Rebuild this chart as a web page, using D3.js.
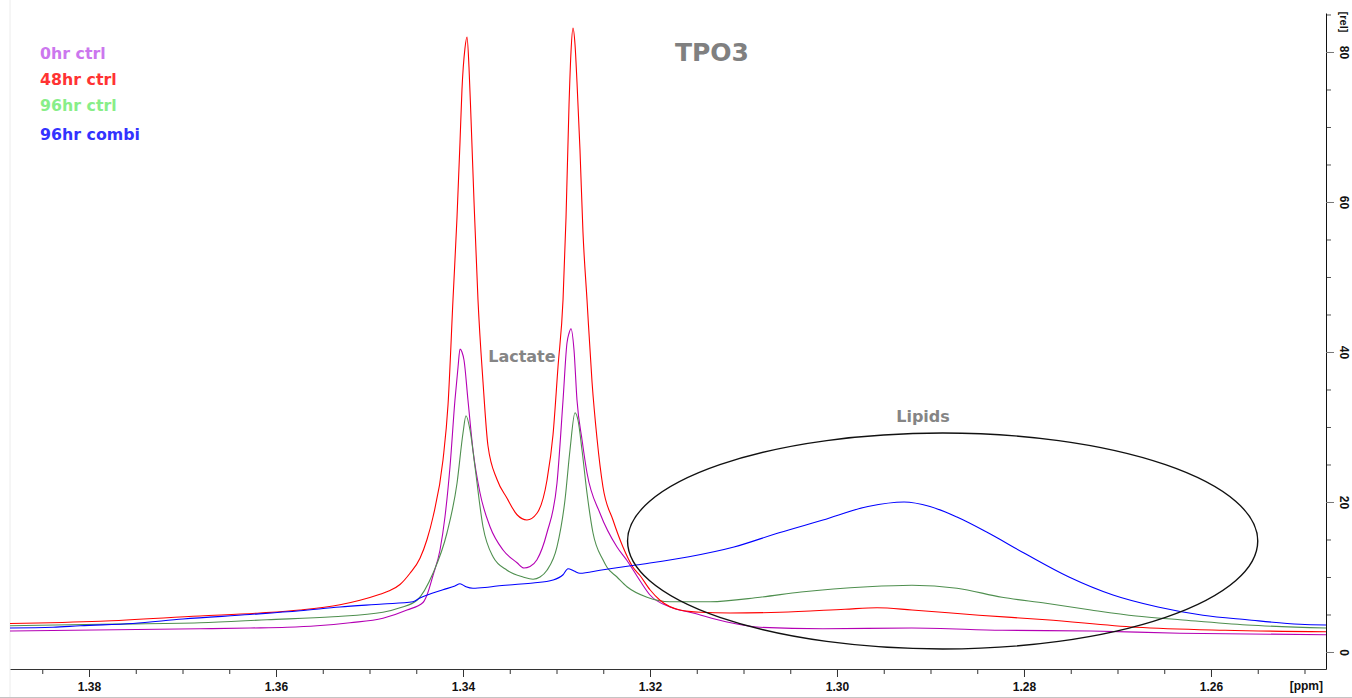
<!DOCTYPE html>
<html>
<head>
<meta charset="utf-8">
<script src="https://cdn.jsdelivr.net/npm/d3@7"></script>
<style>
  body { margin: 0; background: #fff; }
  svg { display: block; }
</style>
</head>
<body>
<script>
const width = 1352, height = 698

// spectra: [ppm, intensity in rel]
const ctrl0 = [[1.38845, 2.8],[1.36813, 3.1],[1.36278, 3.2],[1.35882, 3.3],[1.35561, 3.5],[1.35209, 3.9],[1.34856, 4.5],[1.34599, 5.6],[1.34428, 6.6],[1.34385, 7.6],[1.34321, 10.2],[1.34246, 13.6],[1.34193, 18],[1.34139, 24.7],[1.34086, 33.6],[1.34053, 38],[1.34032, 40.4],[1.34011, 40],[1.33989, 38.9],[1.33947, 33.6],[1.33893, 26.9],[1.33818, 21.2],[1.33711, 16.7],[1.33572, 13.6],[1.33422, 11.9],[1.33348, 11.2],[1.33283, 11.4],[1.33209, 12.3],[1.33102, 15.9],[1.32995, 22.5],[1.32930, 33.6],[1.32888, 41.2],[1.32866, 42.5],[1.32845, 43.1],[1.32813, 40.3],[1.32781, 33.6],[1.32727, 28.3],[1.32674, 23.9],[1.32535, 18.5],[1.32353, 14],[1.32246, 12.2],[1.32107, 9.5],[1.32000, 7.6],[1.31786, 6],[1.31540, 5.2],[1.31177, 4.0],[1.30824, 3.3],[1.30150, 3.1],[1.29198, 3.2],[1.28235, 2.9],[1.27284, 2.8],[1.26332, 2.5],[1.24770, 2.3]]

const ctrl48 = [[1.38845, 3.8],[1.37882, 4.1],[1.36813, 4.8],[1.36171, 5.2],[1.35743, 5.6],[1.35316, 6.3],[1.35102, 6.9],[1.34888, 7.7],[1.34781, 8.2],[1.34674, 9.0],[1.34567, 10.5],[1.34460, 12.5],[1.34385, 15],[1.34321, 18],[1.34214, 25.6],[1.34160, 33],[1.34107, 47],[1.34064, 58],[1.34032, 68],[1.34011, 75],[1.33979, 80.5],[1.33957, 82],[1.33936, 78],[1.33914, 71],[1.33882, 60],[1.33840, 47],[1.33786, 36],[1.33733, 27.5],[1.33636, 23],[1.33529, 20.5],[1.33422, 18.3],[1.33316, 17.6],[1.33209, 18.5],[1.33102, 22.9],[1.33037, 29],[1.32984, 38],[1.32930, 47],[1.32898, 58],[1.32866, 73],[1.32845, 80],[1.32824, 83.2],[1.32802, 81],[1.32781, 76],[1.32749, 67],[1.32717, 56],[1.32674, 47],[1.32620, 36],[1.32567, 28.5],[1.32503, 22],[1.32396, 17.6],[1.32289, 14],[1.32182, 11.3],[1.32107, 10.2],[1.32000, 8.3],[1.31893, 6.9],[1.31679, 5.6],[1.31465, 5.3],[1.31144, 5.2],[1.30610, 5.3],[1.29915, 5.7],[1.29572, 5.9],[1.29198, 5.6],[1.28481, 4.9],[1.27765, 4.3],[1.26802, 3.3],[1.25850, 2.9],[1.24770, 2.7]]

const ctrl96 = [[1.38845, 3.5],[1.37882, 3.7],[1.36813, 3.9],[1.36096, 4.3],[1.35390, 4.7],[1.34856, 5.3],[1.34674, 5.9],[1.34492, 6.9],[1.34321, 10.5],[1.34171, 15.9],[1.34064, 22.5],[1.34000, 29.2],[1.33968, 31.5],[1.33925, 29.6],[1.33872, 24.7],[1.33786, 16.7],[1.33679, 12.7],[1.33529, 10.9],[1.33358, 10],[1.33251, 9.7],[1.33176, 10],[1.33102, 10.9],[1.32995, 14],[1.32909, 20.3],[1.32856, 26.9],[1.32802, 31.9],[1.32770, 30.9],[1.32727, 26.9],[1.32674, 21.2],[1.32610, 15.9],[1.32503, 12.3],[1.32460, 11.3],[1.32353, 10],[1.32246, 8.7],[1.32032, 7.3],[1.31786, 6.7],[1.31358, 6.7],[1.30824, 7.3],[1.30385, 8],[1.29669, 8.7],[1.29198, 8.9],[1.28717, 8.5],[1.28235, 7.3],[1.27765, 6.5],[1.27284, 5.6],[1.26802, 4.8],[1.26332, 4.3],[1.25615, 3.6],[1.24770, 3.2]]

const combi96 = [[1.38845, 3.2],[1.38385, 3.3],[1.38096, 3.5],[1.37529, 3.8],[1.36995, 4.4],[1.36278, 5.0],[1.35743, 5.5],[1.35316, 6.0],[1.34856, 6.4],[1.34535, 6.7],[1.34460, 7.2],[1.34214, 8.3],[1.34086, 8.8],[1.34032, 9.1],[1.33968, 8.7],[1.33893, 8.5],[1.33765, 8.6],[1.33636, 8.8],[1.33444, 9.0],[1.33251, 9.2],[1.33037, 9.6],[1.32930, 10.3],[1.32877, 11.1],[1.32813, 10.8],[1.32749, 10.5],[1.32535, 10.9],[1.32150, 11.6],[1.31583, 12.7],[1.31102, 14],[1.30620, 15.9],[1.30150, 17.6],[1.29669, 19.4],[1.29283, 20],[1.29005, 19.4],[1.28717, 18],[1.28385, 15.9],[1.28000, 13.2],[1.27519, 10],[1.27048, 7.6],[1.26567, 6],[1.26086, 4.9],[1.25615, 4.3],[1.25048, 3.7],[1.24770, 3.6]]

const legendLabels = ['0hr ctrl', '48hr ctrl', '96hr ctrl', '96hr combi']
const xMajorTicks = [1.38, 1.36, 1.34, 1.32, 1.30, 1.28, 1.26]
const yMajorTicks = [0, 20, 40, 60, 80]

const series = [
  {data: ctrl0, color: '#b400b4'},
  {data: ctrl96, color: '#4f8f4f'},
  {data: ctrl48, color: '#ff0000'},
  {data: combi96, color: '#0000ff'}
]
const legendColors = ['#cc77ee', '#ff3333', '#88ee88', '#3333ff']

const svg = d3.select('body').append('svg')
    .attr('width', width)
    .attr('height', height)
    .style('font-family', '"Liberation Sans", Arial, sans-serif')

// scales (ppm runs right to left)
const xScale = d3.scaleLinear()
    .domain([1.38845, 1.2477])
    .range([10, 1326])

const yScale = d3.scaleLinear()
    .domain([-2.267, 85.2])
    .range([669, 13])

// frame lines
svg.append('line')
    .attr('x1', 10).attr('x2', 10).attr('y1', 0).attr('y2', 697)
    .attr('stroke', '#ececec')
svg.append('line')
    .attr('x1', 0).attr('x2', width).attr('y1', 697.5).attr('y2', 697.5)
    .attr('stroke', '#c4c4c4')

// x axis: minor then major
const minorX = d3.range(1.385, 1.2475, -0.005)
svg.append('g')
    .attr('transform', 'translate(0,669)')
    .call(d3.axisBottom(xScale).tickValues(minorX).tickSize(5).tickFormat(''))
    .call(g => g.select('.domain').remove())
    .selectAll('line').attr('stroke', '#333')

const xAxis = svg.append('g')
    .attr('transform', 'translate(0,669)')
    .call(d3.axisBottom(xScale).tickValues(xMajorTicks).tickSize(8).tickSizeOuter(0).tickFormat(d3.format('.2f')))
xAxis.select('.domain').attr('stroke', '#333')
xAxis.selectAll('line').attr('stroke', '#333')
xAxis.selectAll('text')
    .attr('y', 13)
    .attr('dy', '0.71em')
    .style('font-size', '12px')
    .style('font-weight', 'bold')
    .style('font-family', '"Liberation Sans", Arial, sans-serif')
    .attr('fill', '#111')

svg.append('text')
    .attr('x', 1323)
    .attr('y', 690)
    .attr('text-anchor', 'end')
    .style('font-size', '12px')
    .style('font-weight', 'bold')
    .attr('fill', '#111')
    .text('[ppm]')

// y axis on the right
const minorY = d3.range(0, 86, 5)
svg.append('g')
    .attr('transform', 'translate(1326,0)')
    .call(d3.axisRight(yScale).tickValues(minorY).tickSize(5).tickFormat(''))
    .call(g => g.select('.domain').remove())
    .selectAll('line').attr('stroke', '#555')

const yAxis = svg.append('g')
    .attr('transform', 'translate(1326,0)')
    .call(d3.axisRight(yScale).tickValues(yMajorTicks).tickSize(8).tickSizeOuter(0))
yAxis.select('.domain').attr('stroke', '#111')
yAxis.selectAll('line').attr('stroke', '#777')
yAxis.selectAll('text')
    .attr('x', 0).attr('y', 0).attr('dy', 0)
    .attr('text-anchor', 'middle')
    .attr('transform', 'translate(14,0) rotate(90)')
    .style('font-size', '12px')
    .style('font-weight', 'bold')
    .style('font-family', '"Liberation Sans", Arial, sans-serif')
    .attr('fill', '#111')

svg.append('text')
    .attr('transform', 'translate(1340,22) rotate(90)')
    .attr('text-anchor', 'middle')
    .style('font-size', '11px')
    .style('font-weight', 'bold')
    .attr('fill', '#111')
    .text('[rel]')

// spectra
const line = d3.line()
    .x(d => xScale(d[0]))
    .y(d => yScale(d[1]))
    .curve(d3.curveMonotoneX)

svg.selectAll('.spectrum')
    .data(series)
    .enter()
    .append('path')
        .attr('class', 'spectrum')
        .attr('d', d => line(d.data))
        .attr('fill', 'none')
        .attr('stroke', d => d.color)
        .attr('stroke-width', 1.1)

// lipid region ellipse
const cx = 1.2887, cy = 14.8, rx = 0.0337, ry = 14.4
svg.append('ellipse')
    .attr('cx', xScale(cx))
    .attr('cy', yScale(cy))
    .attr('rx', xScale(cx - rx) - xScale(cx))
    .attr('ry', yScale(cy - ry) - yScale(cy))
    .attr('fill', 'none')
    .attr('stroke', '#111')
    .attr('stroke-width', 1.4)

// annotations
svg.append('text')
    .attr('x', xScale(1.3337))
    .attr('y', yScale(38.7))
    .attr('text-anchor', 'middle')
    .style('font-family', '"DejaVu Sans", sans-serif')
    .style('font-size', '16px')
    .style('font-weight', 'bold')
    .attr('fill', '#858585')
    .text('Lactate')

svg.append('text')
    .attr('x', xScale(1.2908))
    .attr('y', yScale(30.6))
    .attr('text-anchor', 'middle')
    .style('font-family', '"DejaVu Sans", sans-serif')
    .style('font-size', '16px')
    .style('font-weight', 'bold')
    .attr('fill', '#858585')
    .text('Lipids')

svg.append('text')
    .attr('x', 712)
    .attr('y', 61)
    .attr('text-anchor', 'middle')
    .style('font-family', '"DejaVu Sans", sans-serif')
    .style('font-size', '25px')
    .style('font-weight', 'bold')
    .attr('fill', '#808080')
    .text('TPO3')

// legend
svg.selectAll('.legend')
    .data(legendLabels)
    .enter()
    .append('text')
        .attr('class', 'legend')
        .attr('x', 40)
        .attr('y', (d, i) => [59, 85, 111, 140][i])
        .style('font-family', '"DejaVu Sans", sans-serif')
        .style('font-size', '15.8px')
        .style('font-weight', 'bold')
        .attr('fill', (d, i) => legendColors[i])
        .text(d => d)
</script>
</body>
</html>
